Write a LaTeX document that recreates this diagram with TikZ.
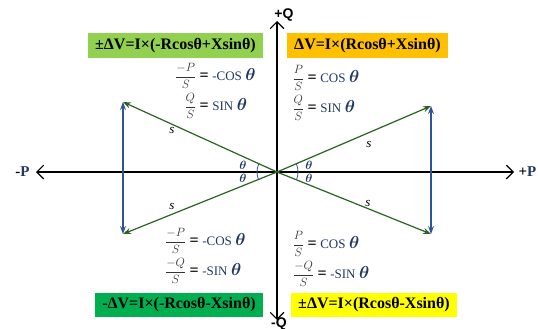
\documentclass[tikz,border=0pt]{standalone}
\usepackage{amsmath,amssymb}
\usepackage{fontspec}
\setmainfont{Liberation Serif}
\setsansfont{Liberation Sans}
\usepackage{xcolor}
\usetikzlibrary{arrows.meta,positioning,calc}
\definecolor{vecgreen}{HTML}{2A6322}
\definecolor{vecblue}{HTML}{2F5597}
\definecolor{navyc}{HTML}{1F3864}
\definecolor{fracc}{HTML}{333333}
\definecolor{boxa}{HTML}{92D050}
\definecolor{boxb}{HTML}{FFC000}
\definecolor{boxc}{HTML}{00B050}
\definecolor{boxd}{HTML}{FFFF00}
\newcommand{\fr}[3]{\makebox[#3][r]{\fontsize{13}{15}\selectfont\color{fracc}$\dfrac{#1}{#2}$}}
\newcommand{\trig}[1]{{\fontsize{16}{18}\selectfont\bfseries =}
  {\color{navyc}\fontsize{13}{15}\selectfont #1}
  {\color{navyc}\fontsize{17}{19}\selectfont$\boldsymbol{\theta}$}}

\begin{document}
\begin{tikzpicture}[x=1pt,y=-1pt,font=\fontsize{14}{16}\selectfont,
  ax/.style={{Straight Barb[length=2.4mm]}-{Straight Barb[length=2.4mm]},line width=1.2pt,black},
  vec/.style={-{Stealth[length=2.8mm]},line width=1.2pt,vecgreen},
  side/.style={{Stealth[length=2.8mm]}-{Stealth[length=2.8mm]},line width=1.2pt,vecblue},
  eq/.style={inner sep=0pt,minimum height=25pt,minimum width=#1,
             font=\fontsize{16}{18}\selectfont\bfseries},
  rel/.style={anchor=west,inner sep=0pt},
  th/.style={inner sep=0pt,text=navyc,font=\fontsize{12}{14}\selectfont},
  sl/.style={inner sep=0pt,font=\fontsize{13}{15}\selectfont\itshape},
]
\useasboundingbox (0,0) rectangle (538,329);

% axes
\coordinate (O) at (277,172);
\coordinate (xl) at (36,172);
\coordinate (xr) at (514,172);
\coordinate (yt) at (277,21);
\coordinate (yb) at (277,320);
\draw[ax] (xl) -- (xr);
\draw[ax] (yb) -- (yt);
\node[font=\fontsize{15}{17}\selectfont\bfseries,left=3pt of xl] (mP) {-{\color{navyc}P}};
\node[font=\fontsize{15}{17}\selectfont\bfseries,right=1pt of xr] (pP) {+{\color{navyc}P}};
\node[font=\fontsize{14}{16}\selectfont\sffamily\bfseries] (pQ) at (284,15) {+Q};
\node[font=\fontsize{14}{16}\selectfont\sffamily\bfseries] (mQ) at (279,324) {-Q};

% S vectors and their tips
\coordinate (ul) at (123,102);
\coordinate (ur) at (431,106);
\coordinate (ll) at (123,234);
\coordinate (lr) at (431,234);
\draw[vec] (O) -- (ul);
\draw[vec] (O) -- (ur);
\draw[vec] (O) -- (ll);
\draw[vec] (O) -- (lr);
\draw[side] (ll) -- (ul);
\draw[side] (lr) -- (ur);
\node[sl] (s1) at (172,131) {s};
\node[sl] (s2) at (369,145) {s};
\node[sl] (s3) at (172,206) {s};
\node[sl] (s4) at (368,203) {s};

% angles
\draw[vecblue,thick] ($(O)+(156:20)$) arc (156:204:20);
\draw[vecblue,thick] ($(O)+(-22:21)$) arc (-22:22:21);
\node[th] (t1) at (243,165) {$\boldsymbol{\theta}$};
\node[th] (t2) at (243,178) {$\boldsymbol{\theta}$};
\node[th] (t3) at (309,165) {$\boldsymbol{\theta}$};
\node[th] (t4) at (309,178) {$\boldsymbol{\theta}$};

% quadrant relations
\node[rel] (ula) at (169,76) {\fr{-P}{S}{27pt} \trig{-COS}};
\node[rel] (ulb) at (169,106) {\fr{Q}{S}{27pt} \trig{SIN}};
\node[rel] (ura) at (287,78) {\fr{P}{S}{17pt} \trig{COS}};
\node[rel] (urb) at (287,108) {\fr{Q}{S}{17pt} \trig{SIN}};
\node[rel] (lla) at (159,241) {\fr{-P}{S}{27pt} \trig{-COS}};
\node[rel] (llb) at (159,271) {\fr{-Q}{S}{27pt} \trig{-SIN}};
\node[rel] (lra) at (287,244) {\fr{P}{S}{17pt} \trig{COS}};
\node[rel] (lrb) at (287,274) {\fr{-Q}{S}{27pt} \trig{-SIN}};

% voltage drop boxes
\node[eq=175pt,fill=boxa] (dva) at (175.5,45.5) {±ΔV=I×(-Rcosθ+Xsinθ)};
\node[eq=161pt,fill=boxb] (dvb) at (367.5,45.5) {ΔV=I×(Rcosθ+Xsinθ)};
\node[eq=168pt,minimum height=24pt,fill=boxc] (dvc) at (179,305) {-ΔV=I×(-Rcosθ-Xsinθ)};
\node[eq=166pt,minimum height=24pt,fill=boxd] (dvd) at (374,305) {±ΔV=I×(Rcosθ-Xsinθ)};
\end{tikzpicture}
\end{document}
